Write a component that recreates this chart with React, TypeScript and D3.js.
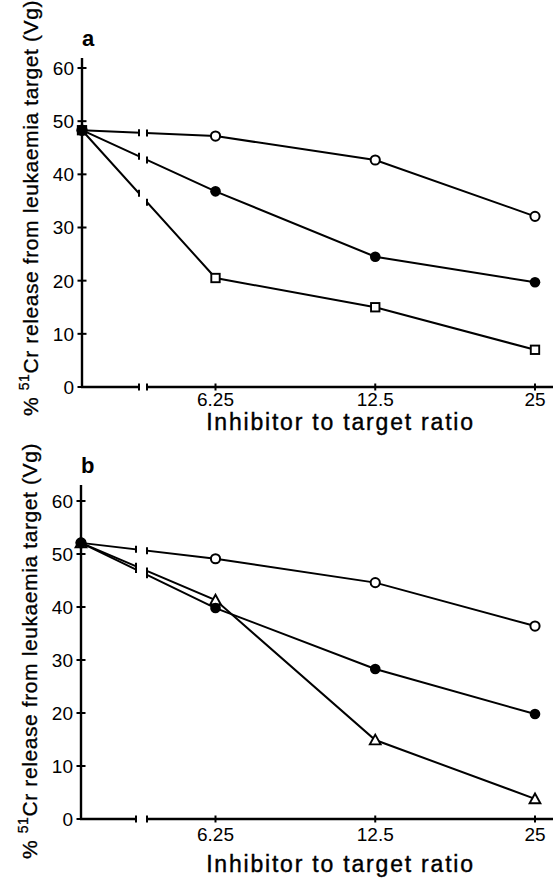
// Two-panel line chart: 51Cr release vs inhibitor to target ratio, with axis break
import * as d3 from 'd3';

const ratios = [6.25, 12.5, 25];
const xTickLabels = ['6.25', '12.5', '25'];
const yTicks = [0, 10, 20, 30, 40, 50, 60];

// panel a
const controlA = 48.3;
const aOpen = [47.2, 42.7, 32.1];
const aFilled = [36.8, 24.5, 19.7];
const aSquare = [20.5, 15.0, 7.0];

// panel b
const controlB = 52.1;
const bOpen = [49.1, 44.6, 36.4];
const bFilled = [39.8, 28.3, 19.8];
const bTriangle = [41.3, 14.9, 3.8];

const FONT = 'Liberation Sans, Arial, Helvetica, sans-serif';

type Series = { values: number[]; marker: 'open' | 'filled' | 'square' | 'triangle' };

type Panel = {
  label: string;
  axisX: number;
  axisTop: number;
  yBottom: number;
  yTopVal: number;
  breakL: number;
  breakR: number;
  tickLabelY: number;
  titleY: number;
  yLabelY: number;
  yLabelX: number;
  labelY: number;
  control: number;
  series: Series[];
};

const panels: Panel[] = [
  {
    label: 'a', axisX: 82, axisTop: 58, yBottom: 387, yTopVal: 68,
    breakL: 139, breakR: 147, tickLabelY: 406, titleY: 430,
    yLabelY: 208, yLabelX: 37.5, labelY: 46, control: controlA,
    series: [
      { values: aOpen, marker: 'open' },
      { values: aSquare, marker: 'square' },
      { values: aFilled, marker: 'filled' },
    ],
  },
  {
    label: 'b', axisX: 81, axisTop: 485, yBottom: 819, yTopVal: 501,
    breakL: 136, breakR: 147, tickLabelY: 841, titleY: 872,
    yLabelY: 651, yLabelX: 36.5, labelY: 473, control: controlB,
    series: [
      { values: bOpen, marker: 'open' },
      { values: bTriangle, marker: 'triangle' },
      { values: bFilled, marker: 'filled' },
    ],
  },
];

function Marker({ x, y, kind }: { x: number; y: number; kind: Series['marker'] }) {
  if (kind === 'open') return <circle cx={x} cy={y} r={4.6} fill="#fff" stroke="#000" strokeWidth={2} />;
  if (kind === 'filled') return <circle cx={x} cy={y} r={5.3} fill="#000" />;
  if (kind === 'square') return <rect x={x - 4.2} y={y - 4.2} width={8.4} height={8.4} fill="#fff" stroke="#000" strokeWidth={1.9} />;
  const s = 5.4;
  const sym = d3.line()([[x, y - s], [x + s, y + s * 0.8], [x - s, y + s * 0.8]]) + 'Z';
  return <path d={sym} fill="#fff" stroke="#000" strokeWidth={1.9} strokeLinejoin="miter" />;
}

function PanelChart({ p }: { p: Panel }) {
  const x = d3.scaleLog().base(2).domain([6.25, 25]).range([215.5, 535]);
  const y = d3.scaleLinear().domain([0, 60]).range([p.yBottom, p.yTopVal]);
  const line = d3.line<[number, number]>().x(d => d[0]).y(d => d[1]);
  const x0 = p.axisX;
  const y0 = y(p.control);

  // y at a given pixel x along control -> first point segment
  const yAlong = (s: Series, px: number) => {
    const x1 = x(ratios[0]);
    const y1 = y(s.values[0]);
    return y0 + (y1 - y0) * (px - x0) / (x1 - x0);
  };

  return (
    <g>
      {/* axes */}
      <line x1={x0} x2={x0} y1={p.axisTop} y2={p.yBottom + 1} stroke="#000" strokeWidth={2.4} />
      <line x1={x0 - 1} x2={553} y1={p.yBottom} y2={p.yBottom} stroke="#000" strokeWidth={2.4} />
      {yTicks.map(t => (
        <g key={t}>
          <line x1={x0 - 4.5} x2={x0 + 4.5} y1={y(t)} y2={y(t)} stroke="#000" strokeWidth={2} />
          <text x={x0 - 8} y={y(t)} dy="0.36em" textAnchor="end" fontSize={19} fontFamily={FONT}>{t}</text>
        </g>
      ))}
      {ratios.map((r, i) => (
        <g key={r}>
          <line x1={x(r)} x2={x(r)} y1={p.yBottom - 3.5} y2={p.yBottom + 3.5} stroke="#000" strokeWidth={2} />
          <text x={x(r)} y={p.tickLabelY} textAnchor="middle" fontSize={19} fontFamily={FONT}>{xTickLabels[i]}</text>
        </g>
      ))}

      {/* series lines */}
      {p.series.map((s, i) => {
        const pts: [number, number][] = [[x0, y0], ...ratios.map((r, j) => [x(r), y(s.values[j])] as [number, number])];
        return <path key={i} d={line(pts) || ''} fill="none" stroke="#000" strokeWidth={2} />;
      })}

      {/* axis break gap */}
      <rect x={p.breakL + 0.5} y={p.axisTop} width={p.breakR - p.breakL - 1} height={p.yBottom - p.axisTop + 6} fill="#fff" />
      {[p.breakL, p.breakR].map(bx => (
        <g key={bx}>
          <line x1={bx} x2={bx} y1={p.yBottom - 3.5} y2={p.yBottom + 3.5} stroke="#000" strokeWidth={2} />
          {p.series.map((s, i) => (
            <line key={i} x1={bx} x2={bx} y1={yAlong(s, bx) - 3.5} y2={yAlong(s, bx) + 3.5} stroke="#000" strokeWidth={2} />
          ))}
        </g>
      ))}

      {/* markers */}
      {p.series.map((s, i) => (
        <g key={i}>
          <Marker x={x0} y={y0} kind={s.marker} />
          {ratios.map((r, j) => <Marker key={r} x={x(r)} y={y(s.values[j])} kind={s.marker} />)}
        </g>
      ))}

      {/* labels */}
      <text x={x0} y={p.labelY} fontSize={22} fontWeight="bold" fontFamily={FONT}>{p.label}</text>
      <text x={340.5} y={p.titleY} textAnchor="middle" fontSize={23} letterSpacing={1.8} fontFamily={FONT}
        stroke="#000" strokeWidth={0.4}>Inhibitor to target ratio</text>
      <text transform={`translate(${p.yLabelX},${p.yLabelY}) rotate(-90)`} textAnchor="middle" fontSize={21}
        letterSpacing={0.6} fontFamily={FONT} stroke="#000" strokeWidth={0.3}>
        <tspan>% </tspan>
        <tspan fontSize={14} dy={-9}>51</tspan>
        <tspan dy={9}>Cr release from leukaemia target (Vg)</tspan>
      </text>
    </g>
  );
}

export default function App() {
  return (
    <svg width={558} height={879} style={{ position: 'absolute', left: 0, top: 0, background: '#fff' }}>
      <rect width={558} height={879} fill="#fff" />
      {panels.map(p => <PanelChart key={p.label} p={p} />)}
    </svg>
  );
}
